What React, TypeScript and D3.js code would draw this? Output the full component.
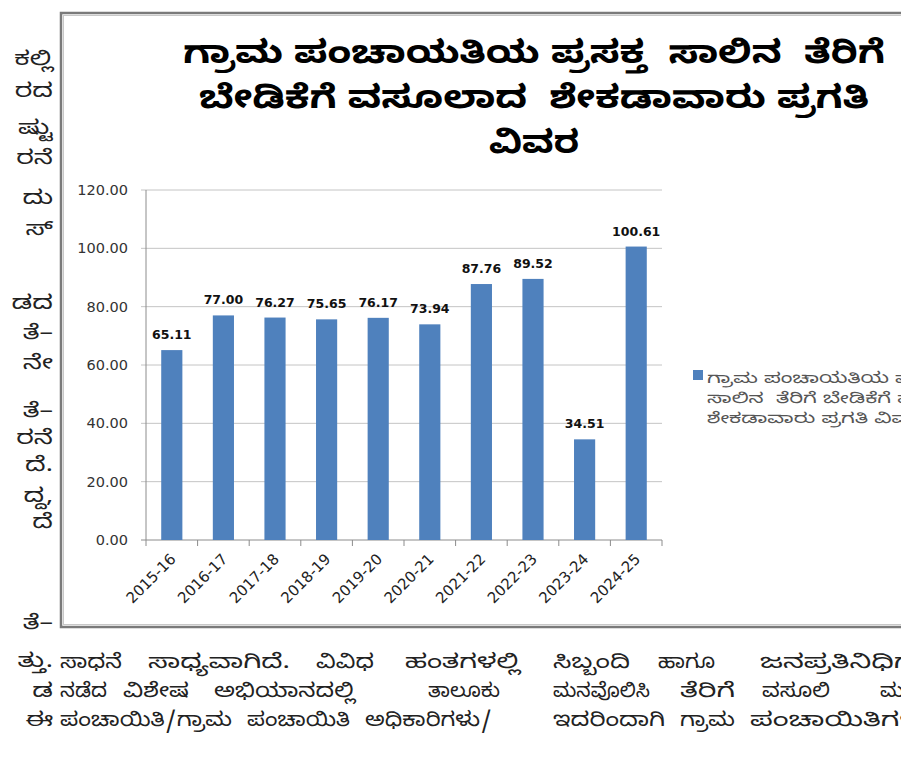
import React from "react";
import * as d3 from "d3";

const categories = ["2015-16","2016-17","2017-18","2018-19","2019-20","2020-21","2021-22","2022-23","2023-24","2024-25"];
const values = [65.11, 77.0, 76.27, 75.65, 76.17, 73.94, 87.76, 89.52, 34.51, 100.61];
const yTicks = [0, 20, 40, 60, 80, 100, 120];
const titleLines = ["ಗ್ರಾಮ ಪಂಚಾಯತಿಯ ಪ್ರಸಕ್ತ  ಸಾಲಿನ  ತೆರಿಗೆ", "ಬೇಡಿಕೆಗೆ ವಸೂಲಾದ  ಶೇಕಡಾವಾರು ಪ್ರಗತಿ", "ವಿವರ"];
const titleWidths = [702, 670, 90];
const legendLines = ["ಗ್ರಾಮ ಪಂಚಾಯತಿಯ ಪ್ರಸಕ್ತ", "ಸಾಲಿನ  ತೆರಿಗೆ ಬೇಡಿಕೆಗೆ ವಸೂಲಾದ", "ಶೇಕಡಾವಾರು ಪ್ರಗತಿ ವಿವರ"];
const sideFragments: [string, number][] = [
  ["ಕಲ್ಲಿ", 65], ["ರದ", 97], ["ಷ್ಟು", 134], ["ರನೆ", 164], ["ದು", 204], ["ಸ್", 235],
  ["ಡದ", 309], ["ತೆ–", 339], ["ನೇ", 369], ["ತೆ–", 417], ["ರನೆ", 444], ["ದೆ.", 471],
  ["ದ್ದ,", 502], ["ದೆ", 528], ["ತೆ–", 629], ["ತ್ತು.", 667], ["ಡ", 697], ["ಈ", 726],
];
const bodyWords: [string, number, number, number][] = [
  ["ಸಾಧನೆ", 60, 62, 668], ["ಸಾಧ್ಯವಾಗಿದೆ.", 148, 142, 668], ["ವಿವಿಧ", 316, 58, 668], ["ಹಂತಗಳಲ್ಲಿ", 405, 115, 668],
  ["ಸಿಬ್ಬಂದಿ", 553, 77, 668], ["ಹಾಗೂ", 658, 57, 668], ["ಜನಪ್ರತಿನಿಧಿಗಳು", 760, 185, 668],
  ["ನಡೆದ", 60, 47, 697], ["ವಿಶೇಷ", 123, 66, 697], ["ಅಭಿಯಾನದಲ್ಲಿ", 214, 141, 697], ["ತಾಲೂಕು", 428, 72, 697],
  ["ಮನವೊಲಿಸಿ", 553, 97, 697], ["ತೆರಿಗೆ", 680, 55, 697], ["ವಸೂಲಿ", 762, 68, 697], ["ಮ", 880, 24, 697],
  ["ಪಂಚಾಯಿತಿ/ಗ್ರಾಮ", 60, 172, 726], ["ಪಂಚಾಯಿತಿ", 247, 103, 726], ["ಅಧಿಕಾರಿಗಳು/", 365, 127, 726],
  ["ಇದರಿಂದಾಗಿ", 553, 112, 726], ["ಗ್ರಾಮ", 680, 55, 726], ["ಪಂಚಾಯಿತಿಗಳ", 750, 170, 726],
];

const KN = "'Noto Sans Kannada', 'Noto Serif Kannada', 'Tunga', 'Noto Sans', sans-serif";
const NUM = "'DejaVu Sans', Verdana, sans-serif";
const BAR = "#4F81BD";

export default function App() {
  const x = d3.scaleBand<string>().domain(categories).range([146, 662]).paddingInner(0.59).paddingOuter(0.295);
  const y = d3.scaleLinear().domain([0, 120]).range([540, 190]);
  const fmt = d3.format(".2f");
  const step = x.step();
  const x0 = 146;
  return (
    <svg width={901} height={763} style={{ position: "absolute", left: 0, top: 0, background: "#fff" }}>
      <rect x={0} y={0} width={901} height={763} fill="#fff" />
      {/* side fragments */}
      {sideFragments.map(([t, yy], i) => (
        <text key={"s" + i} transform={`translate(53 ${yy}) scale(1.35 1)`} textAnchor="end" fontFamily={KN} fontSize={20} fill="#222">{t}</text>
      ))}
      {/* chart frame */}
      <rect x={61} y={13} width={860} height={614} fill="#fff" stroke="#7a7a7a" strokeWidth={2.5} />
      <rect x={63.5} y={15.5} width={855} height={609} fill="none" stroke="#c8c8c8" strokeWidth={1} />
      {/* title */}
      {titleLines.map((t, i) => (
        <text key={"t" + i} x={534} y={63 + i * 45} textAnchor="middle" fontFamily={KN} fontWeight="bold" fontSize={32}
          fill="#000" textLength={titleWidths[i]} lengthAdjust="spacingAndGlyphs" style={{ whiteSpace: "pre" }}>{t}</text>
      ))}
      {/* gridlines */}
      {yTicks.map((v) => (
        <line key={"g" + v} x1={141} x2={662} y1={y(v)} y2={y(v)} stroke={v === 0 ? "#8c8c8c" : "#c4c4c4"} strokeWidth={1} />
      ))}
      <line x1={146} x2={146} y1={190} y2={540} stroke="#8c8c8c" strokeWidth={1} />
      {yTicks.map((v) => (
        <text key={"yl" + v} x={128} y={y(v) + 5} textAnchor="end" fontFamily={NUM} fontSize={14.5} fill="#333">{fmt(v)}</text>
      ))}
      {/* x ticks */}
      {d3.range(categories.length + 1).map((i) => (
        <line key={"xt" + i} x1={x0 + i * step} x2={x0 + i * step} y1={540} y2={546} stroke="#8c8c8c" strokeWidth={1} />
      ))}
      {/* bars */}
      {categories.map((c, i) => (
        <rect key={"b" + c} x={x(c)} y={y(values[i])} width={x.bandwidth()} height={540 - y(values[i])} fill={BAR} />
      ))}
      {/* data labels */}
      {categories.map((c, i) => (
        <text key={"dl" + c} x={(x(c) as number) + x.bandwidth() / 2} y={y(values[i]) - 11} textAnchor="middle" fontFamily={NUM} fontWeight="bold" fontSize={12.5} fill="#111">{fmt(values[i])}</text>
      ))}
      {/* x labels */}
      {categories.map((c) => {
        const cx = (x(c) as number) + x.bandwidth() / 2 + 5;
        const cy = 560;
        return (
          <text key={"xl" + c} x={cx} y={cy} textAnchor="end" fontFamily={NUM} fontSize={15} fill="#222" transform={`rotate(-45 ${cx} ${cy})`}>{c}</text>
        );
      })}
      {/* legend */}
      <rect x={693} y={370} width={10} height={10} fill={BAR} />
      {legendLines.map((t, i) => (
        <text key={"lg" + i} transform={`translate(707 ${383 + i * 20}) scale(1.42 1)`} fontFamily={KN} fontSize={15} fill="#555" style={{ whiteSpace: "pre" }}>{t}</text>
      ))}
      {/* body text */}
      {bodyWords.map(([t, xx, w, yy], i) => (
        <text key={"w" + i} x={xx} y={yy} fontFamily={KN} fontSize={20} fill="#222" textLength={w} lengthAdjust="spacingAndGlyphs">{t}</text>
      ))}
    </svg>
  );
}
